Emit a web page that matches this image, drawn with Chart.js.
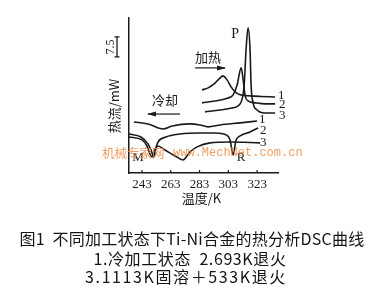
<!DOCTYPE html>
<html>
<head>
<meta charset="utf-8">
<script src="https://cdn.jsdelivr.net/npm/chart.js"></script>
<style>
    body { margin: 0; background: #fff; }
    #wrap { position: relative; width: 384px; height: 289px; }
    .cap {
        position: absolute; left: 0; width: 384px; text-align: center;
        font-family: "Noto Sans CJK SC"; font-size: 16px; color: #151515;
        white-space: pre; line-height: 18px;
    }
</style>
</head>
<body>
<div id="wrap">
    <canvas id="dscChart" width="384" height="289"></canvas>
    <div class="cap" style="top:229px;letter-spacing:0.25px">图1  不同加工状态下Ti-Ni合金的热分析DSC曲线</div>
    <div class="cap" style="top:249px;left:-2px;letter-spacing:0.6px">1.冷加工状态  2.693K退火</div>
    <div class="cap" style="top:267px;left:-6px;letter-spacing:1.6px">3.1113K固溶＋533K退火</div>
</div>
<script>
// temperature (K) / heat flow (arbitrary offset, mW)
const tempTicks = [243, 263, 283, 303, 323];

const heat1T = [284.7, 288.9, 293.1, 296.6, 299.3, 302.1, 304.9, 307.7, 311.2, 318.1, 325.1, 335.5];
const heat1Q = [31.1, 31.9, 33.4, 35.3, 36.4, 34.9, 32.3, 30.4, 29.3, 28.9, 28.7, 28.5];

const heat2T = [284.7, 293.8, 302.8, 306.3, 309.1, 311.9, 313.3, 314.7, 316.7, 321.6, 328.6, 335.5];
const heat2Q = [26.3, 27.0, 28.1, 29.3, 33.0, 39.4, 34.9, 28.9, 27.0, 26.3, 25.9, 25.9];

const heat3T = [286.8, 297.3, 305.6, 311.2, 314.0, 315.3, 316.7, 318.1, 318.8, 320.2, 323.0, 328.6, 335.5];
const heat3Q = [22.9, 23.6, 24.4, 25.9, 33.0, 46.1, 54.4, 46.1, 33.0, 26.3, 23.6, 22.5, 22.5];

const cool1T = [237.4, 247.2, 257.6, 263.9, 276.4, 283.3, 288.9, 297.3, 311.2, 323.0];
const cool1Q = [19.1, 18.4, 16.5, 17.6, 18.4, 18.0, 17.3, 18.0, 18.8, 19.5];

const cool2T = [234.0, 242.3, 247.2, 249.3, 251.3, 252.7, 254.1, 259.7, 269.4, 283.3, 293.8, 301.4, 304.2, 306.3, 308.4, 311.2, 318.1, 323.7];
const cool2Q = [14.6, 13.5, 10.9, 8.6, 6.0, 9.4, 11.6, 13.5, 14.6, 15.0, 15.0, 14.3, 12.4, 6.8, 12.4, 13.9, 15.4, 16.9];

const cool3T = [234.0, 243.0, 246.5, 248.6, 250.0, 252.0, 254.1, 259.0, 266.0, 271.5, 276.4, 281.3, 290.3, 304.2, 325.1];
const cool3Q = [13.5, 12.4, 10.1, 7.1, 6.0, 8.6, 10.1, 8.6, 6.4, 4.9, 7.9, 9.8, 11.3, 11.6, 11.3];

const scaleBar = [43.5, 51.0]; // 7.5 mW

// text placed in data coordinates [T, Q, text, font]
const notes = [
    [307.7, 51.8, 'P', '14px "Liberation Serif"'],
    [288.9, 43.5, '加热', '13px "Noto Sans CJK SC"'],
    [259.0, 27.4, '冷却', '13px "Noto Sans CJK SC"'],
    [240.2, 5.6, 'M', '13px "Liberation Serif"'],
    [311.9, 5.6, 'R', '13px "Liberation Serif"'],
    [339.7, 29.2, '1', '13px "Liberation Serif"'],
    [340.4, 25.5, '2', '13px "Liberation Serif"'],
    [340.4, 21.4, '3', '13px "Liberation Serif"'],
    [326.5, 19.9, '1', '13px "Liberation Serif"'],
    [327.2, 15.8, '2', '13px "Liberation Serif"'],
    [327.2, 11.3, '3', '13px "Liberation Serif"']
];
const arrows = [
    [279.9, 39.4, 300.7, 39.4],
    [269.4, 22.1, 247.2, 22.1]
];

const pts = (ts, qs) => ts.map((t, i) => ({ x: t, y: qs[i] }));

const line = (data) => ({
    data: data,
    borderColor: '#1a1a1a',
    borderWidth: 1.6,
    pointRadius: 0,
    fill: false,
    cubicInterpolationMode: 'monotone'
});

const overlay = {
    id: 'overlay',
    afterDraw(chart) {
        const { ctx, chartArea: area, scales: { x, y } } = chart;
        ctx.save();
        ctx.fillStyle = '#1a1a1a';
        ctx.strokeStyle = '#1a1a1a';
        ctx.textAlign = 'center';
        ctx.textBaseline = 'middle';

        // inner tick marks
        ctx.lineWidth = 1.2;
        tempTicks.forEach(t => {
            const px = x.getPixelForValue(t);
            ctx.beginPath();
            ctx.moveTo(px, area.bottom);
            ctx.lineTo(px, area.bottom - 3);
            ctx.stroke();
        });

        notes.forEach(([t, q, txt, font]) => {
            ctx.font = font;
            ctx.fillText(txt, x.getPixelForValue(t), y.getPixelForValue(q));
        });

        ctx.lineWidth = 1.2;
        arrows.forEach(([t0, q0, t1, q1]) => {
            const x0 = x.getPixelForValue(t0), y0 = y.getPixelForValue(q0);
            const x1 = x.getPixelForValue(t1), y1 = y.getPixelForValue(q1);
            const dir = Math.sign(x1 - x0);
            ctx.beginPath();
            ctx.moveTo(x0, y0);
            ctx.lineTo(x1, y1);
            ctx.stroke();
            ctx.beginPath();
            ctx.moveTo(x1 + dir * 1, y1);
            ctx.lineTo(x1 - dir * 8, y1 - 2.5);
            ctx.lineTo(x1 - dir * 8, y1 + 2.5);
            ctx.closePath();
            ctx.fill();
        });

        // scale bar
        const bx = area.left - 12;
        const b0 = y.getPixelForValue(scaleBar[0]), b1 = y.getPixelForValue(scaleBar[1]);
        ctx.lineWidth = 1.3;
        ctx.beginPath();
        ctx.moveTo(bx, b0); ctx.lineTo(bx, b1);
        ctx.moveTo(bx - 2.5, b0); ctx.lineTo(bx + 2.5, b0);
        ctx.moveTo(bx - 2.5, b1); ctx.lineTo(bx + 2.5, b1);
        ctx.stroke();

        ctx.save();
        ctx.translate(bx - 6, (b0 + b1) / 2);
        ctx.rotate(-Math.PI / 2);
        ctx.font = '12px "Liberation Serif"';
        ctx.fillText('7.5', 0, 0);
        ctx.restore();

        // axis titles
        ctx.save();
        ctx.translate(area.left - 15, 106);
        ctx.rotate(-Math.PI / 2);
        ctx.font = '13px "Noto Sans CJK SC"';
        ctx.fillText('热流/mW', 0, 0);
        ctx.restore();

        ctx.font = '13px "Noto Sans CJK SC"';
        ctx.fillText('温度/K', (area.left + area.right) / 2 - 2, area.bottom + 25);

        // site watermark
        ctx.fillStyle = 'rgba(238, 140, 70, 0.85)';
        ctx.textAlign = 'left';
        ctx.font = '12.5px "Noto Sans CJK SC"';
        ctx.fillText('机械专家网', 102, 153);
        ctx.font = '12px "Liberation Mono"';
        ctx.fillText('www.MechNet.com.cn', 173, 153);
        ctx.restore();
    }
};

new Chart(document.getElementById('dscChart'), {
    type: 'line',
    data: {
        datasets: [
            line(pts(heat1T, heat1Q)),
            line(pts(heat2T, heat2Q)),
            line(pts(heat3T, heat3Q)),
            line(pts(cool1T, cool1Q)),
            line(pts(cool2T, cool2Q)),
            line(pts(cool3T, cool3Q))
        ]
    },
    options: {
        responsive: false,
        animation: false,
        layout: { padding: { top: 18, right: 106, left: 0, bottom: 0 } },
        plugins: { legend: { display: false }, tooltip: { enabled: false } },
        scales: {
            x: {
                type: 'linear',
                min: 234,
                max: 337.5,
                afterFit: s => { s.height = 116; },
                afterBuildTicks: s => { s.ticks = tempTicks.map(v => ({ value: v })); },
                grid: { display: false, drawTicks: false },
                border: { color: '#1a1a1a', width: 1.5 },
                ticks: {
                    color: '#1a1a1a',
                    padding: 4,
                    maxRotation: 0,
                    font: { family: 'Liberation Serif', size: 13 },
                    callback: v => String(v)
                }
            },
            y: {
                min: 0,
                max: 58.1,
                afterFit: s => { s.width = 129; },
                grid: { display: false, drawTicks: false },
                border: { color: '#1a1a1a', width: 1.5 },
                ticks: { display: false }
            }
        }
    },
    plugins: [overlay]
});
</script>
</body>
</html>
